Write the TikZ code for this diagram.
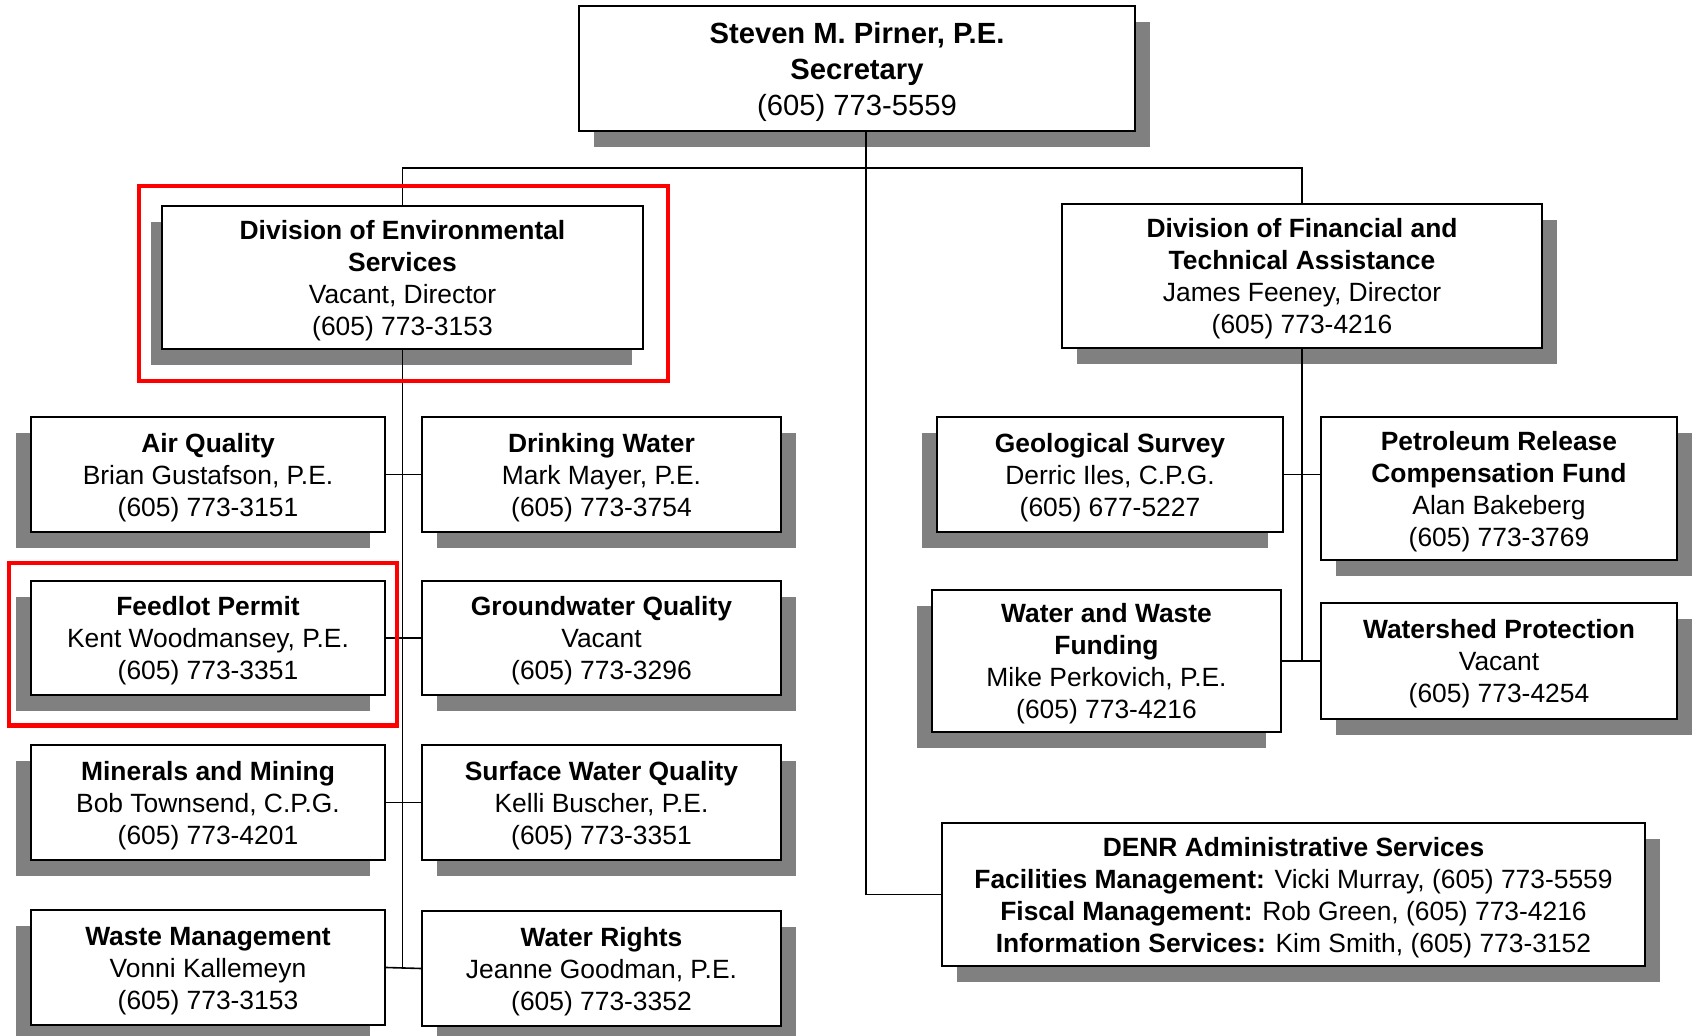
\documentclass[tikz,border=0pt]{standalone}
\usepackage{fontspec}
\setmainfont{Liberation Sans}
\usetikzlibrary{shadows,calc}
\definecolor{shgray}{HTML}{808080}
\definecolor{hlred}{HTML}{FF0000}
\newcommand\mytopstrut{\rule{0pt}{12.7pt}}
\newcommand\mybigstrut{\rule{0pt}{13.8pt}}
\tikzset{
  unit/.style={draw=black, line width=1pt, fill=white, align=center, inner sep=0pt,
    font=\fontsize{13.2}{16}\selectfont},
  shL/.style={general shadow={fill=shgray, shadow xshift=-7.5pt, shadow yshift=-8pt}},
  shR/.style={general shadow={fill=shgray, shadow xshift=7.5pt, shadow yshift=-8pt}},
  conn/.style={draw=black, line width=0.8pt},
  hl/.style={draw=hlred, line width=2.2pt},
}
\begin{document}
\begin{tikzpicture}[x=0.5pt,y=-0.5pt]
\useasboundingbox[fill=white] (0,0) rectangle (1698,1036);

% top
\node[unit,shR,minimum width=278pt,minimum height=62.5pt,font=\fontsize{14.6}{17.9}\selectfont] (top) at (857,69)
  {\mybigstrut\textbf{Steven M. Pirner, P.E.}\\\textbf{Secretary}\\(605) 773-5559};

% divisions
\node[unit,general shadow={fill=shgray, shadow xshift=-5.5pt, shadow yshift=-8pt},
  minimum width=240.5pt,minimum height=71.5pt] (env) at (402.5,277.5)
  {\mytopstrut\textbf{Division of Environmental}\\\textbf{Services}\\Vacant, Director\\(605) 773-3153};
\node[unit,shR,minimum width=240pt,minimum height=72pt] (fin) at (1302,276)
  {\mytopstrut\textbf{Division of Financial and}\\\textbf{Technical Assistance}\\James Feeney, Director\\(605) 773-4216};

% environmental programs
\node[unit,shL,minimum width=177pt,minimum height=57.5pt] (air) at (208,474.5)
  {\mytopstrut\textbf{Air Quality}\\Brian Gustafson, P.E.\\(605) 773-3151};
\node[unit,shR,minimum width=179.5pt,minimum height=57.5pt] (drink) at (601.5,474.5)
  {\mytopstrut\textbf{Drinking Water}\\Mark Mayer, P.E.\\(605) 773-3754};
\node[unit,shL,minimum width=177pt,minimum height=57pt] (feed) at (208,638)
  {\mytopstrut\textbf{Feedlot Permit}\\Kent Woodmansey, P.E.\\(605) 773-3351};
\node[unit,shR,minimum width=179.5pt,minimum height=57pt] (ground) at (601.5,638)
  {\mytopstrut\textbf{Groundwater Quality}\\Vacant\\(605) 773-3296};
\node[unit,shL,minimum width=177pt,minimum height=57.5pt] (minerals) at (208,802.5)
  {\mytopstrut\textbf{Minerals and Mining}\\Bob Townsend, C.P.G.\\(605) 773-4201};
\node[unit,shR,minimum width=179.5pt,minimum height=57.5pt] (surface) at (601.5,802.5)
  {\mytopstrut\textbf{Surface Water Quality}\\Kelli Buscher, P.E.\\(605) 773-3351};
\node[unit,shL,minimum width=177pt,minimum height=57.5pt] (waste) at (208,967.5)
  {\mytopstrut\textbf{Waste Management}\\Vonni Kallemeyn\\(605) 773-3153};
\node[unit,shR,minimum width=179.5pt,minimum height=57pt] (rights) at (601.5,968.5)
  {\mytopstrut\textbf{Water Rights}\\Jeanne Goodman, P.E.\\(605) 773-3352};

% financial programs
\node[unit,shL,minimum width=173pt,minimum height=57.5pt] (geo) at (1110,474.5)
  {\mytopstrut\textbf{Geological Survey}\\Derric Iles, C.P.G.\\(605) 677-5227};
\node[unit,shR,minimum width=178pt,minimum height=71.5pt] (petro) at (1499,488.5)
  {\mytopstrut\textbf{Petroleum Release}\\\textbf{Compensation Fund}\\Alan Bakeberg\\(605) 773-3769};
\node[unit,shL,minimum width=174.5pt,minimum height=71pt] (wwf) at (1106.5,661)
  {\mytopstrut\textbf{Water and Waste}\\\textbf{Funding}\\Mike Perkovich, P.E.\\(605) 773-4216};
\node[unit,shR,minimum width=178pt,minimum height=58pt] (watershed) at (1499,661)
  {\mytopstrut\textbf{Watershed Protection}\\Vacant\\(605) 773-4254};

% administrative services
\node[unit,shR,minimum width=351.5pt,minimum height=71.5pt] (denr) at (1293.5,894.5)
  {\mytopstrut\textbf{DENR Administrative Services}\\
   \textbf{Facilities Management:} Vicki Murray, (605) 773-5559\\
   \textbf{Fiscal Management:} Rob Green, (605) 773-4216\\
   \textbf{Information Services:} Kim Smith, (605) 773-3152};

% connectors
\coordinate (trunk) at ($(top.south)+(9,0)$);
\coordinate (bus) at (866,168);
\draw[conn] (trunk) -- (trunk |- denr.west) -- (denr.west);
\draw[conn] (env.north) -- (env.north |- bus) -- (fin.north |- bus) -- (fin.north);

\draw[conn] (env.south) -- (env.south |- rights.west);
\draw[conn] (air.east) -- (drink.west);
\draw[conn] (feed.east) -- (ground.west);
\draw[conn] (minerals.east) -- (surface.west);
\draw[conn] (waste.east) -- (rights.west);

\draw[conn] (fin.south) -- (fin.south |- wwf.east);
\draw[conn] (geo.east) -- (geo.east -| petro.west);
\draw[conn] (wwf.east) -- (watershed.west);

% highlights
\draw[hl] (139,186) rectangle (668,381);
\draw[hl] (8.7,563) rectangle (397,725.5);
\end{tikzpicture}
\end{document}
